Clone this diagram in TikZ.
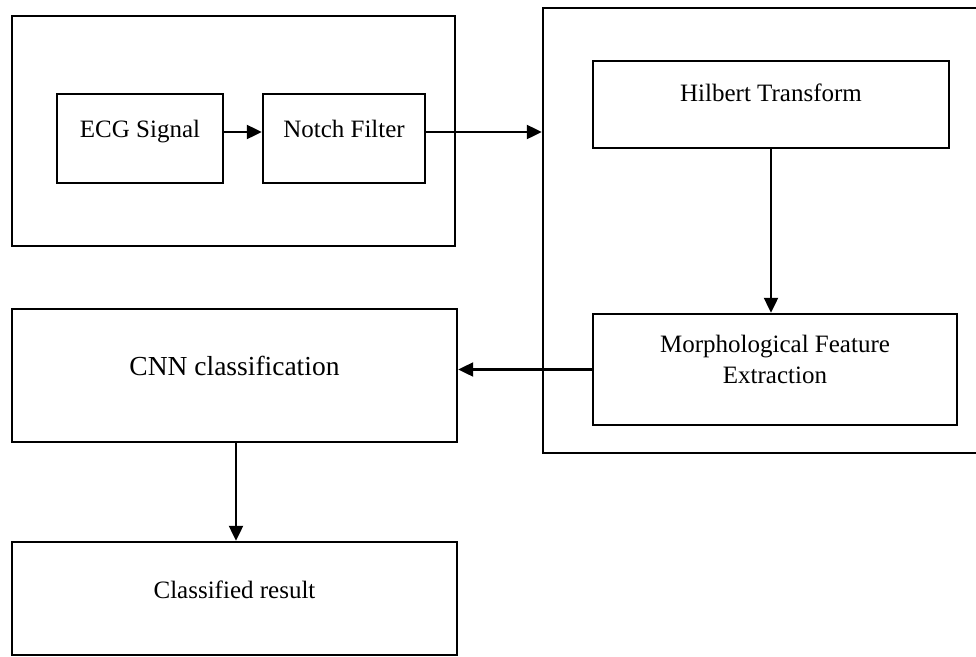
\documentclass[tikz,border=0pt]{standalone}
\usepackage{fontspec}
\setmainfont{Liberation Serif}
\usetikzlibrary{arrows.meta}
\begin{document}
\begin{tikzpicture}[x=1pt,y=-1pt,
  box/.style={draw=black, line width=2.4pt, inner sep=0pt, rectangle},
  txt/.style={font=\fontsize{25}{31}\selectfont, align=center},
  arr/.style={line width=2.2pt, -{Triangle[length=15pt,width=14pt]}}]
\useasboundingbox (0,0) rectangle (976,656);
\clip (0,0) rectangle (976,656);
% group boxes
\node[box, minimum width=443pt, minimum height=230pt] (g1) at (233.5,131) {};
\node[box, minimum width=445pt, minimum height=445pt] (g2) at (765.5,230.5) {};
% process boxes
\node[box, minimum width=166pt, minimum height=89pt,
  label={[txt, yshift=6.5pt]center:ECG Signal}] (ecg) at (140,138.5) {};
\node[box, minimum width=162pt, minimum height=89pt,
  label={[txt, yshift=9.5pt]center:Notch Filter}] (notch) at (344,138.5) {};
\node[box, minimum width=356pt, minimum height=87pt,
  label={[txt, yshift=11.5pt]center:Hilbert Transform}] (hilbert) at (771,104.5) {};
\node[box, minimum width=364pt, minimum height=111pt,
  label={[txt, yshift=10.5pt]center:Morphological Feature\\Extraction}] (morph) at (775,369.5) {};
\node[box, minimum width=445pt, minimum height=133pt,
  label={[txt, font=\fontsize{27.5}{33}\selectfont, yshift=9.5pt]center:CNN classification}] (cnn) at (234.5,375.5) {};
\node[box, minimum width=445pt, minimum height=113pt,
  label={[txt, yshift=8.5pt]center:Classified result}] (result) at (234.5,598.5) {};
% connectors
\coordinate (e1) at ([yshift=6.5pt]ecg.east);
\coordinate (n1) at ([yshift=6.5pt]notch.east);
\draw[arr] (e1) -- (e1 -| notch.west);
\draw[arr] (n1) -- (n1 -| g2.west);
\draw[arr] (hilbert.south) -- (hilbert.south |- morph.north);
\draw[arr] (morph.west) -- (morph.west -| cnn.east);
\draw[arr] ([xshift=1.5pt]cnn.south) -- ([xshift=1.5pt]cnn.south |- result.north);
\end{tikzpicture}
\end{document}
